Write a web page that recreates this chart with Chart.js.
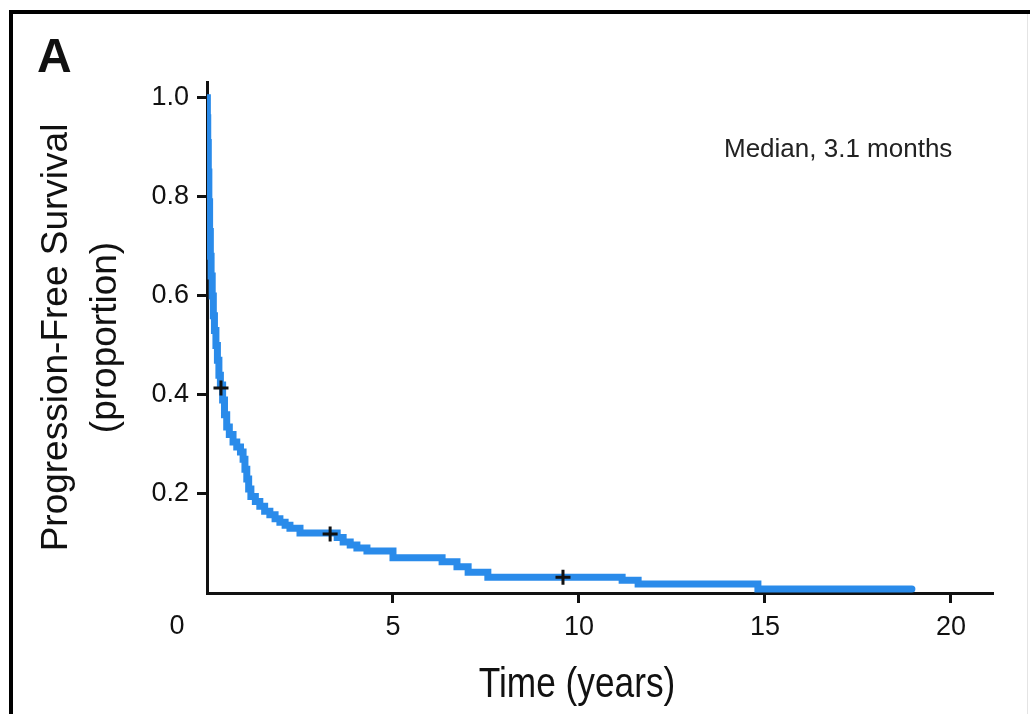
<!DOCTYPE html>
<html>
<head>
<meta charset="utf-8">
<script src="https://cdn.jsdelivr.net/npm/chart.js@4.4.0/dist/chart.umd.min.js"></script>
<style>
  html, body { margin: 0; padding: 0; background: #fff; overflow: hidden; }
  #wrap { width: 1030px; height: 714px; }
  canvas { display: block; }
</style>
</head>
<body>
<div id="wrap"><canvas id="myChart" width="1030" height="714"></canvas></div>
<script>
// Kaplan-Meier progression-free survival
var pfsYears = [0, 0.01, 0.02, 0.035, 0.05, 0.07, 0.09, 0.11, 0.14, 0.17, 0.2, 0.24, 0.28, 0.32, 0.36,
    0.42, 0.47, 0.53, 0.6, 0.7, 0.8, 0.9, 0.97, 1.02, 1.07, 1.12, 1.18, 1.3, 1.42, 1.55, 1.69,
    1.83, 1.96, 2.1, 2.23, 2.5, 3.5, 3.66, 3.85, 4.03, 4.3, 5.0, 6.32, 6.72, 7.02, 7.55,
    11.16, 11.59, 14.81, 18.95];
var pfsSurv = [1.0, 0.96, 0.91, 0.85, 0.79, 0.73, 0.68, 0.64, 0.60, 0.56, 0.53, 0.50, 0.47, 0.44, 0.42,
    0.39, 0.36, 0.335, 0.32, 0.305, 0.295, 0.285, 0.27, 0.25, 0.23, 0.21, 0.195, 0.185, 0.175, 0.165, 0.158,
    0.15, 0.143, 0.137, 0.131, 0.121, 0.112, 0.103, 0.097, 0.091, 0.085, 0.071, 0.063, 0.053, 0.042, 0.032,
    0.026, 0.018, 0.008, 0.008];
var censorYears = [0.376, 3.31, 9.57];
var censorSurv = [0.414, 0.119, 0.032];
var xTickValues = [5, 10, 15, 20];
var yTickValues = [0.2, 0.4, 0.6, 0.8, 1.0];

var ink = "#111";
var sans = "'Liberation Sans', Arial, sans-serif";

var decorations = {
    id: "decorations",
    beforeDraw: function (chart) {
        var ctx = chart.ctx;
        ctx.save();
        ctx.fillStyle = "#fff";
        ctx.fillRect(0, 0, chart.width, chart.height);
        // panel frame (only top and left sides are visible)
        ctx.fillStyle = "#000";
        ctx.fillRect(9, 10, 1021, 4);
        ctx.fillRect(9, 10, 4, 704);
        ctx.fillStyle = "#e4e4e4";
        ctx.fillRect(1027, 14, 1, 700);
        ctx.restore();
    },
    afterDraw: function (chart) {
        var ctx = chart.ctx;
        var x = chart.scales.x;
        ctx.save();
        ctx.fillStyle = ink;
        ctx.font = "bold 48px " + sans;
        ctx.textAlign = "left";
        ctx.textBaseline = "alphabetic";
        ctx.fillText("A", 37, 72);

        ctx.font = "26px " + sans;
        ctx.fillStyle = "#222";
        ctx.fillText("Median, 3.1 months", 724, 157);

        // origin label sits off the corner
        ctx.fillStyle = ink;
        ctx.font = "27px " + sans;
        ctx.textAlign = "center";
        ctx.fillText("0", x.getPixelForValue(0) - 30, 634);

        // condensed axis title: squeeze the regular face horizontally
        ctx.translate(577, 697);
        ctx.scale(0.82, 1);
        ctx.font = "43px " + sans;
        ctx.fillText("Time (years)", 0, 0);
        ctx.restore();
    }
};

var ctx = document.getElementById("myChart").getContext("2d");

var chart = new Chart(ctx, {
    type: "line",
    data: {
        datasets: [
            {
                label: "Censored",
                data: censorYears.map(function (t, i) { return { x: t, y: censorSurv[i] }; }),
                showLine: false,
                pointStyle: "cross",
                pointRadius: 7.5,
                pointBorderWidth: 3,
                pointBorderColor: ink,
                borderColor: ink,
                order: 0,
            },
            {
                label: "PFS",
                data: pfsYears.map(function (t, i) { return { x: t, y: pfsSurv[i] }; }),
                stepped: true,
                borderColor: "#2a8bea",
                borderWidth: 7,
                borderCapStyle: "round",
                borderJoinStyle: "miter",
                pointRadius: 0,
                fill: false,
                order: 1,
            },
        ],
    },
    options: {
        responsive: false,
        animation: false,
        layout: {
            padding: { top: 82, right: 37, left: 0, bottom: 0 },
        },
        plugins: {
            legend: { display: false },
            tooltip: { enabled: false },
        },
        scales: {
            x: {
                type: "linear",
                min: 0,
                max: 21.13,
                afterBuildTicks: function (scale) {
                    scale.ticks = xTickValues.map(function (v) { return { value: v }; });
                },
                afterFit: function (scale) {
                    scale.height = 121;
                },
                border: { display: true, color: ink, width: 3 },
                grid: {
                    drawOnChartArea: false,
                    drawTicks: true,
                    tickLength: 10,
                    tickWidth: 3,
                    tickColor: ink,
                },
                ticks: {
                    color: ink,
                    padding: 8,
                    maxRotation: 0,
                    font: { family: sans, size: 27 },
                },
            },
            y: {
                type: "linear",
                min: 0,
                max: 1.032,
                afterBuildTicks: function (scale) {
                    scale.ticks = yTickValues.map(function (v) { return { value: v }; });
                },
                afterFit: function (scale) {
                    scale.width = 207;
                },
                border: { display: true, color: ink, width: 3 },
                grid: {
                    drawOnChartArea: false,
                    drawTicks: true,
                    tickLength: 10,
                    tickWidth: 3,
                    tickColor: ink,
                },
                ticks: {
                    color: ink,
                    padding: 8,
                    font: { family: sans, size: 27 },
                    callback: function (value) {
                        return Number(value).toFixed(1);
                    },
                },
                title: {
                    display: true,
                    text: ["Progression-Free Survival", "(proportion)"],
                    color: ink,
                    font: { family: sans, size: 37, lineHeight: 1.33 },
                    padding: { top: 32, bottom: 0 },
                },
            },
        },
    },
    plugins: [decorations],
});
</script>
</body>
</html>
